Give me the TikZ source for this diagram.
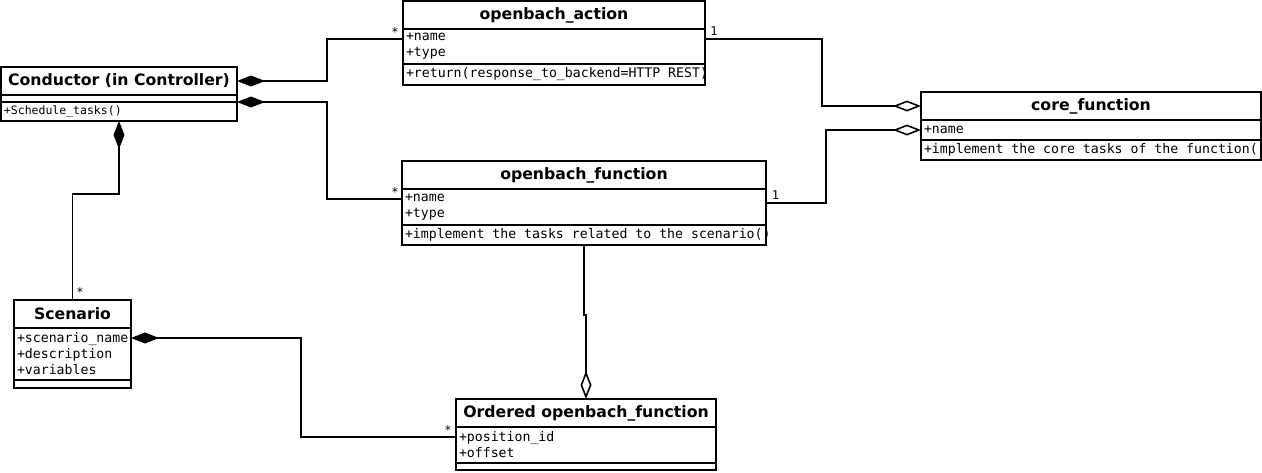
\documentclass[tikz,border=0pt]{standalone}
\usepackage{fontspec}
\setsansfont{DejaVu Sans}
\setmonofont{DejaVu Sans Mono}[HyphenChar=None, WordSpace={1,0,0}]
\usetikzlibrary{
    arrows.meta,
    calc,
    positioning
}
\newcommand\monotext[1]{\ttfamily\fontsize{#1}{16}\selectfont}
\newcommand\oneline[1]{\mbox{\spaceskip=0pt\xspaceskip=0pt\relax #1}}

\begin{document}
\begin{tikzpicture}[x=1pt, y=-1pt,
    classtitle/.style={draw, line width=1.6pt, anchor=north west, outer sep=0pt,
        inner sep=0pt, minimum width=#1, minimum height=28pt,
        font=\sffamily\bfseries\fontsize{15.7}{18}\selectfont},
    members/.style={draw, line width=1.6pt, anchor=north west, outer sep=0pt,
        inner xsep=3pt, inner ysep=0pt, text width=#1,
        font=\monotext{13.2}},
    emptybox/.style={draw, line width=1.6pt, anchor=north west, outer sep=0pt,
        inner sep=0pt, minimum width=#1},
    mult/.style={inner sep=0pt, font=\monotext{12}},
    comp/.style={line width=1.6pt, {Diamond[length=28pt, width=11pt]}-},
    aggr/.style={line width=1.6pt, -{Diamond[open, length=28pt, width=11pt]}}
]
    \useasboundingbox (0, 0) rectangle (1262, 472);

    % classes
    \node[classtitle=236pt] (condT) at (1, 67) {Conductor (in Controller)};
    \node[emptybox=236pt, minimum height=7pt] (condA) at (condT.south west) {};
    \node[members=230pt, minimum height=19pt, font=\monotext{11.5}] (condM) at (condA.south west) {+Schedule\_tasks()};

    \node[classtitle=302pt] (actT) at (403, 1) {openbach\_action};
    \node[members=296pt, minimum height=35pt] (actA) at (actT.south west) {+name\\+type};
    \node[members=296pt, minimum height=21pt] (actM) at (actA.south west) {\oneline{+return(response\_to\_backend=HTTP REST)}};

    \node[classtitle=340pt] (coreT) at (921, 92) {core\_function};
    \node[members=334pt, minimum height=20pt] (coreA) at (coreT.south west) {+name};
    \node[members=334pt, minimum height=20pt] (coreM) at (coreA.south west) {\oneline{+implement the core tasks of the function()}};

    \node[classtitle=364pt] (funcT) at (402, 161) {openbach\_function};
    \node[members=358pt, minimum height=36pt] (funcA) at (funcT.south west) {+name\\+type};
    \node[members=358pt, minimum height=20pt] (funcM) at (funcA.south west) {\oneline{+implement the tasks related to the scenario()}};

    \node[classtitle=117pt] (scenT) at (14, 300) {Scenario};
    \node[members=111pt, minimum height=52pt] (scenA) at (scenT.south west) {+scenario\_name\\+description\\+variables};
    \node[emptybox=117pt, minimum height=8pt] (scenM) at (scenA.south west) {};

    \node[classtitle=260pt] (ordT) at (456, 399) {Ordered openbach\_function};
    \node[members=254pt, minimum height=36pt] (ordA) at (ordT.south west) {+position\_id\\+offset};
    \node[emptybox=260pt, minimum height=7pt] (ordM) at (ordA.south west) {};

    % multiplicities
    \node[mult] (mAct) at (395, 32) {*};
    \node[mult] (mFunc) at (395, 192) {*};
    \node[mult] (mActCore) at (714, 31) {1};
    \node[mult] (mFuncCore) at (775.5, 195) {1};
    \node[mult] (mScen) at (80, 292) {*};
    \node[mult] (mOrd) at (448, 430) {*};

    % associations
    \draw[comp] (condT.east) -- ++(90, 0) |- ([yshift=-10pt]actA.north west);
    \draw[comp] (condM.north east) -- ++(90, 0) |- ([yshift=-10pt]funcA.north west);
    \draw[comp] (condM.south) -- ++(0, 73) -| (scenT.north);
    \draw[comp] ([yshift=-10pt]scenA.north east) -- ++(170, 0) |- ([yshift=-10pt]ordA.north west);
    \draw[aggr] ([yshift=-10pt]actA.north east) -- ++(117, 0) |- (coreT.west);
    \draw[aggr] ([yshift=-14pt]funcA.north east) -- ++(60, 0) |- (coreA.west);
    \draw[aggr] (funcM.south) -- ++(0, 70) -| (ordT.north);
\end{tikzpicture}
\end{document}
